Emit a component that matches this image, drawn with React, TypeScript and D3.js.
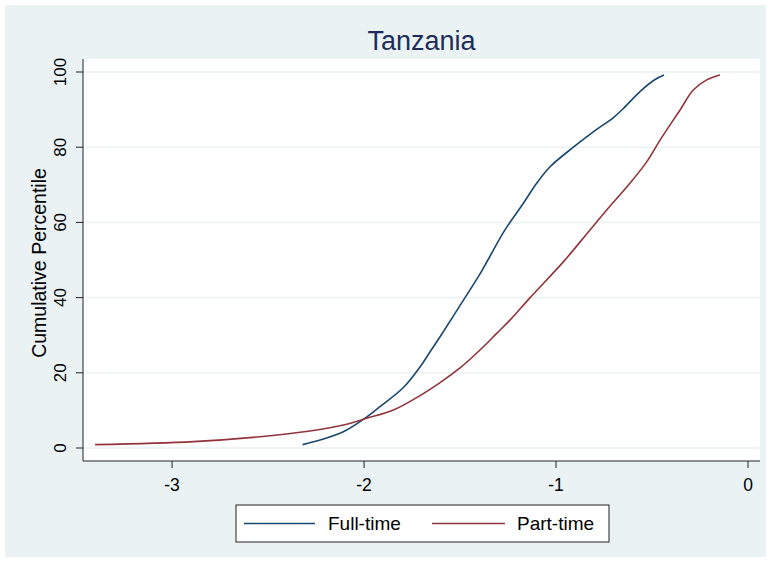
import React from "react";
import * as d3 from "d3";

const fullTimeX = [-2.32, -2.229, -2.108, -2.004, -1.917, -1.795, -1.708, -1.656, -1.604, -1.474, -1.396, -1.355, -1.266, -1.17, -1.101, -1.031, -0.91, -0.806, -0.701, -0.649, -0.5625, -0.484, -0.4375];
const fullTimeY = [0.9, 2.1, 4.3, 7.6, 11, 16.1, 21.6, 25.6, 29.6, 40, 46.3, 50, 58, 65.1, 70.4, 74.8, 80, 84.1, 87.9, 90.3, 94.8, 98, 99.2];

const partTimeX = [-3.401, -2.889, -2.542, -2.281, -2.108, -1.986, -1.847, -1.726, -1.604, -1.5, -1.448, -1.361, -1.309, -1.24, -1.135, -0.962, -0.823, -0.736, -0.615, -0.528, -0.458, -0.354, -0.285, -0.215, -0.146];
const partTimeY = [0.9, 1.7, 3.0, 4.5, 6.1, 7.9, 10.1, 13.4, 17.4, 21.3, 23.6, 27.8, 30.5, 34.0, 40, 49.5, 58.0, 63.3, 70.4, 76.1, 81.9, 89.9, 95.2, 97.9, 99.2];

const xTicks = [-3, -2, -1, 0];
const yTicks = [0, 20, 40, 60, 80, 100];
const seriesNames = ["Full-time", "Part-time"];
const seriesColors = ["#1a476f", "#90353b"];

const FONT = "'Liberation Sans', Arial, sans-serif";

export default function App() {
  const W = 770, H = 565;
  const left = 83, right = 760, top = 59, bottom = 461;
  const x = d3.scaleLinear().domain([-3.464, 0.0625]).range([left, right]);
  const y = d3.scaleLinear().domain([-3.457, 103.46]).range([bottom, top]);
  const line = d3
    .line<[number, number]>()
    .x((d) => x(d[0]))
    .y((d) => y(d[1]))
    .curve(d3.curveCatmullRom.alpha(0.5));
  const ft: [number, number][] = fullTimeX.map((v, i) => [v, fullTimeY[i]]);
  const pt: [number, number][] = partTimeX.map((v, i) => [v, partTimeY[i]]);
  const series = [ft, pt];

  const legX = 236, legY = 505, legW = 373, legH = 37;
  const legItems = [
    { lx1: 244, lx2: 315, tx: 328 },
    { lx1: 432, lx2: 505, tx: 517 },
  ];

  return (
    <svg width={W} height={H} style={{ position: "absolute", left: 0, top: 0 }} fontFamily={FONT}>
      <rect x={0} y={0} width={W} height={H} fill="#ffffff" />
      <rect x={5} y={5} width={761} height={552} fill="#eaf2f3" />
      <rect x={left} y={top} width={right - left} height={bottom - top} fill="#ffffff" />
      {yTicks.map((t) => (
        <line key={"g" + t} x1={left} x2={right} y1={y(t)} y2={y(t)} stroke="#eaf2f3" strokeWidth={1.5} />
      ))}
      {series.map((s, i) => (
        <path key={i} d={line(s) || ""} fill="none" stroke={seriesColors[i]} strokeWidth={1.6} />
      ))}
      <line x1={left} x2={left} y1={top} y2={bottom} stroke="#222" strokeWidth={1} />
      <line x1={left} x2={right} y1={bottom} y2={bottom} stroke="#222" strokeWidth={1} />
      {yTicks.map((t) => (
        <g key={"y" + t}>
          <line x1={left - 7} x2={left} y1={y(t)} y2={y(t)} stroke="#222" strokeWidth={1} />
          <text
            transform={`translate(${66},${y(t)}) rotate(-90)`}
            textAnchor="middle"
            fontSize={17}
            fill="#000"
          >
            {t}
          </text>
        </g>
      ))}
      {xTicks.map((t) => (
        <g key={"x" + t}>
          <line x1={x(t)} x2={x(t)} y1={bottom} y2={bottom + 7} stroke="#222" strokeWidth={1} />
          <text x={x(t)} y={491} textAnchor="middle" fontSize={17.5} fill="#000">
            {t === 0 ? "0" : "-" + Math.abs(t)}
          </text>
        </g>
      ))}
      <text
        transform={`translate(${45.5},${(top + bottom) / 2 + 3}) rotate(-90)`}
        textAnchor="middle"
        fontSize={19.5}
        fill="#000"
      >
        Cumulative Percentile
      </text>
      <text x={(left + right) / 2} y={49.5} textAnchor="middle" fontSize={27} fill="#1e2d57">
        Tanzania
      </text>
      <rect x={legX} y={legY} width={legW} height={legH} fill="#ffffff" stroke="#222" strokeWidth={1} />
      {legItems.map((it, i) => (
        <g key={"l" + i}>
          <line x1={it.lx1} x2={it.lx2} y1={legY + 18.5} y2={legY + 18.5} stroke={seriesColors[i]} strokeWidth={1.6} />
          <text x={it.tx} y={legY + 24.5} fontSize={19} fill="#000">
            {seriesNames[i]}
          </text>
        </g>
      ))}
    </svg>
  );
}
